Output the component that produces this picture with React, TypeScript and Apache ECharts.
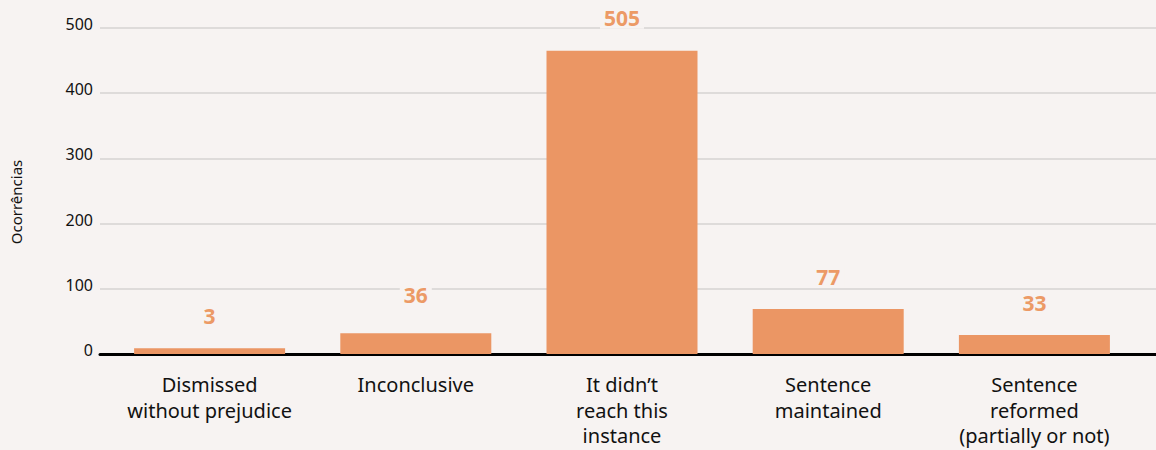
import React, { useEffect, useRef } from "react";
import * as echarts from "echarts";

const categories = [
  "Dismissed\nwithout prejudice",
  "Inconclusive",
  "It didn’t\nreach this\ninstance",
  "Sentence\nmaintained",
  "Sentence\nreformed\n(partially or not)",
];
// bar heights as drawn in the reference
const barValues = [9, 32, 465, 69, 29];
// numbers printed above the bars
const labelValues = [3, 36, 505, 77, 33];
const yTicks = [0, 100, 200, 300, 400, 500];

const BG = "#f7f3f2";
const BAR = "#eb9664";
const FONT = "'Noto Sans', sans-serif";

export default function App() {
  const ref = useRef<HTMLDivElement>(null);
  useEffect(() => {
    if (!ref.current) return;
    const chart = echarts.init(ref.current, undefined, { renderer: "svg" });
    chart.setOption({
      animation: false,
      backgroundColor: BG,
      textStyle: { fontFamily: FONT },
      grid: [
        { left: 100, right: 0, top: 28, bottom: 96 },
        { left: 106.5, right: 18.5, top: 28, bottom: 96 },
      ],
      xAxis: [
        {
          type: "value",
          gridIndex: 0,
          min: 0,
          max: 1,
          axisLine: { show: true, onZero: false, lineStyle: { color: "#000", width: 3 } },
          axisTick: { show: false },
          axisLabel: { show: false },
          splitLine: { show: false },
        },
        {
          type: "category",
          gridIndex: 1,
          data: categories,
          axisLine: { show: false },
          axisTick: { show: false },
          axisLabel: {
            interval: 0,
            margin: 18,
            color: "#111",
            fontSize: 20,
            lineHeight: 25.5,
            fontFamily: FONT,
          },
        },
      ],
      yAxis: [
        {
          type: "value",
          gridIndex: 0,
          min: yTicks[0],
          max: yTicks[yTicks.length - 1],
          interval: 100,
          axisLine: { show: false },
          axisTick: { show: false },
          axisLabel: {
            color: "#111",
            fontSize: 16,
            margin: 7,
            verticalAlign: "bottom",
            lineHeight: 8,
            fontFamily: FONT,
          },
          splitLine: { show: true, lineStyle: { color: "#d6d3d2", width: 1.5 } },
        },
        {
          type: "value",
          gridIndex: 1,
          min: yTicks[0],
          max: yTicks[yTicks.length - 1],
          interval: 100,
          show: false,
          splitLine: { show: false },
        },
      ],
      graphic: [
        {
          type: "text",
          x: 16,
          y: 202,
          rotation: Math.PI / 2,
          style: {
            text: "Ocorrências",
            fontSize: 15,
            fill: "#111",
            fontFamily: FONT,
            align: "center",
            verticalAlign: "middle",
          },
        },
      ],
      series: [
        {
          type: "bar",
          xAxisIndex: 1,
          yAxisIndex: 1,
          barWidth: 151,
          data: barValues.map((v, i) => (i === 1 ? { value: v, label: { distance: 28 } } : v)),
          itemStyle: { color: BAR },
          label: {
            show: true,
            position: "top",
            distance: 22,
            color: "#ec9a66",
            fontSize: 21,
            fontWeight: "bold",
            fontFamily: FONT,
            backgroundColor: BG,
            padding: [0, 4],
            formatter: (p: any) => String(labelValues[p.dataIndex]),
          },
        },
      ],
    });
    return () => chart.dispose();
  }, []);
  return <div ref={ref} style={{ width: 1156, height: 450, position: "absolute", left: 0, top: 0 }} />;
}
